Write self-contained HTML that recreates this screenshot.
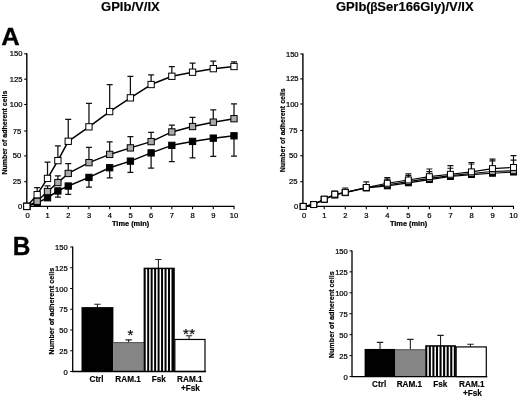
<!DOCTYPE html>
<html><head><meta charset="utf-8"><title>Figure</title>
<style>html,body{margin:0;padding:0;background:#fff;}body{width:520px;height:398px;overflow:hidden;}svg{display:block;will-change:transform;opacity:0.999;}svg{font-family:'Liberation Sans',sans-serif;}</style>
</head><body>
<svg width="520" height="398" viewBox="0 0 520 398" fill="#000">
<rect width="520" height="398" fill="#fff"/>
<text x="101" y="11.2" font-size="13.05" font-weight="bold" stroke="#000" stroke-width="0.15">GPIb/V/IX</text>
<text x="336" y="11.1" font-size="13" font-weight="bold" stroke="#000" stroke-width="0.15">GPIb(<tspan dx="-0.4" font-size="12">&#946;</tspan><tspan dx="-0.3">Ser</tspan><tspan dx="0.2">166Gly)/V/IX</tspan></text>
<text transform="translate(1.3 45.1) scale(1.04 1)" font-size="24.6" font-weight="bold" stroke="#000" stroke-width="0.3">A</text>
<text transform="translate(12.8 254.6) scale(0.95 1)" font-size="25.7" font-weight="bold" stroke="#000" stroke-width="0.3">B</text>
<path d="M26.8 53.3V206.4H234.5" fill="none" stroke="#000" stroke-width="1.4"/>
<line x1="24.2" y1="206.40" x2="26.8" y2="206.40" stroke="#000" stroke-width="1.1"/>
<text x="22.2" y="208.90" font-size="7.6" text-anchor="end" stroke="#000" stroke-width="0.22">0</text>
<line x1="24.2" y1="181.70" x2="26.8" y2="181.70" stroke="#000" stroke-width="1.1"/>
<text x="21.3" y="184.20" font-size="7.6" text-anchor="end" stroke="#000" stroke-width="0.22">25</text>
<line x1="24.2" y1="155.90" x2="26.8" y2="155.90" stroke="#000" stroke-width="1.1"/>
<text x="21.3" y="158.40" font-size="7.6" text-anchor="end" stroke="#000" stroke-width="0.22">50</text>
<line x1="24.2" y1="131.00" x2="26.8" y2="131.00" stroke="#000" stroke-width="1.1"/>
<text x="21.3" y="133.50" font-size="7.6" text-anchor="end" stroke="#000" stroke-width="0.22">75</text>
<line x1="24.2" y1="104.50" x2="26.8" y2="104.50" stroke="#000" stroke-width="1.1"/>
<text x="22.5" y="107.00" font-size="7.6" text-anchor="end" stroke="#000" stroke-width="0.22">100</text>
<line x1="24.2" y1="79.20" x2="26.8" y2="79.20" stroke="#000" stroke-width="1.1"/>
<text x="22.5" y="81.70" font-size="7.6" text-anchor="end" stroke="#000" stroke-width="0.22">125</text>
<line x1="24.2" y1="53.80" x2="26.8" y2="53.80" stroke="#000" stroke-width="1.1"/>
<text x="22.5" y="56.30" font-size="7.6" text-anchor="end" stroke="#000" stroke-width="0.22">150</text>
<text x="27.60" y="218.30" font-size="7.6" text-anchor="middle" stroke="#000" stroke-width="0.22">0</text>
<line x1="47.52" y1="206.4" x2="47.52" y2="209.20000000000002" stroke="#000" stroke-width="1.1"/>
<text x="47.62" y="218.30" font-size="7.6" text-anchor="middle" stroke="#000" stroke-width="0.22">1</text>
<line x1="68.24" y1="206.4" x2="68.24" y2="209.20000000000002" stroke="#000" stroke-width="1.1"/>
<text x="68.34" y="218.30" font-size="7.6" text-anchor="middle" stroke="#000" stroke-width="0.22">2</text>
<line x1="88.96" y1="206.4" x2="88.96" y2="209.20000000000002" stroke="#000" stroke-width="1.1"/>
<text x="89.06" y="218.30" font-size="7.6" text-anchor="middle" stroke="#000" stroke-width="0.22">3</text>
<line x1="109.68" y1="206.4" x2="109.68" y2="209.20000000000002" stroke="#000" stroke-width="1.1"/>
<text x="109.78" y="218.30" font-size="7.6" text-anchor="middle" stroke="#000" stroke-width="0.22">4</text>
<line x1="130.40" y1="206.4" x2="130.40" y2="209.20000000000002" stroke="#000" stroke-width="1.1"/>
<text x="130.50" y="218.30" font-size="7.6" text-anchor="middle" stroke="#000" stroke-width="0.22">5</text>
<line x1="151.12" y1="206.4" x2="151.12" y2="209.20000000000002" stroke="#000" stroke-width="1.1"/>
<text x="151.22" y="218.30" font-size="7.6" text-anchor="middle" stroke="#000" stroke-width="0.22">6</text>
<line x1="171.84" y1="206.4" x2="171.84" y2="209.20000000000002" stroke="#000" stroke-width="1.1"/>
<text x="171.94" y="218.30" font-size="7.6" text-anchor="middle" stroke="#000" stroke-width="0.22">7</text>
<line x1="192.56" y1="206.4" x2="192.56" y2="209.20000000000002" stroke="#000" stroke-width="1.1"/>
<text x="192.66" y="218.30" font-size="7.6" text-anchor="middle" stroke="#000" stroke-width="0.22">8</text>
<line x1="213.28" y1="206.4" x2="213.28" y2="209.20000000000002" stroke="#000" stroke-width="1.1"/>
<text x="213.38" y="218.30" font-size="7.6" text-anchor="middle" stroke="#000" stroke-width="0.22">9</text>
<line x1="234.00" y1="206.4" x2="234.00" y2="209.20000000000002" stroke="#000" stroke-width="1.1"/>
<text x="234.10" y="218.30" font-size="7.6" text-anchor="middle" stroke="#000" stroke-width="0.22">10</text>
<text x="130.60" y="226.29999999999998" font-size="7.4" font-weight="bold" text-anchor="middle" stroke="#000" stroke-width="0.22">Time (min)</text>
<text transform="translate(7.0 132.6) rotate(-90)" font-size="7" font-weight="bold" text-anchor="middle" stroke="#000" stroke-width="0.2">Number of adherent cells</text>
<path d="M57.88 190.94V197.24M54.88 197.24h6" fill="none" stroke="#111" stroke-width="1.25"/>
<path d="M68.24 186.05V194.40M65.24 194.40h6" fill="none" stroke="#111" stroke-width="1.25"/>
<path d="M88.96 177.41V187.07M85.96 187.07h6" fill="none" stroke="#111" stroke-width="1.25"/>
<path d="M109.68 167.74V177.91M106.68 177.91h6" fill="none" stroke="#111" stroke-width="1.25"/>
<path d="M130.40 161.13V172.32M127.40 172.32h6" fill="none" stroke="#111" stroke-width="1.25"/>
<path d="M151.12 152.89V168.15M148.12 168.15h6" fill="none" stroke="#111" stroke-width="1.25"/>
<path d="M171.84 145.36V161.64M168.84 161.64h6" fill="none" stroke="#111" stroke-width="1.25"/>
<path d="M192.56 141.39V157.87M189.56 157.87h6" fill="none" stroke="#111" stroke-width="1.25"/>
<path d="M213.28 138.14V156.45M210.28 156.45h6" fill="none" stroke="#111" stroke-width="1.25"/>
<path d="M234.00 135.80V156.14M231.00 156.14h6" fill="none" stroke="#111" stroke-width="1.25"/>
<path d="M26.80 206.40L37.16 202.84L47.52 197.75L57.88 190.94L68.24 186.05L88.96 177.41L109.68 167.74L130.40 161.13L151.12 152.89L171.84 145.36L192.56 141.39L213.28 138.14L234.00 135.80" fill="none" stroke="#000" stroke-width="1.5" stroke-linejoin="round"/>
<rect x="23.65" y="203.25" width="6.3" height="6.3" fill="#000" stroke="#000" stroke-width="1"/>
<rect x="34.01" y="199.69" width="6.3" height="6.3" fill="#000" stroke="#000" stroke-width="1"/>
<rect x="44.37" y="194.60" width="6.3" height="6.3" fill="#000" stroke="#000" stroke-width="1"/>
<rect x="54.73" y="187.79" width="6.3" height="6.3" fill="#000" stroke="#000" stroke-width="1"/>
<rect x="65.09" y="182.90" width="6.3" height="6.3" fill="#000" stroke="#000" stroke-width="1"/>
<rect x="85.81" y="174.26" width="6.3" height="6.3" fill="#000" stroke="#000" stroke-width="1"/>
<rect x="106.53" y="164.59" width="6.3" height="6.3" fill="#000" stroke="#000" stroke-width="1"/>
<rect x="127.25" y="157.98" width="6.3" height="6.3" fill="#000" stroke="#000" stroke-width="1"/>
<rect x="147.97" y="149.74" width="6.3" height="6.3" fill="#000" stroke="#000" stroke-width="1"/>
<rect x="168.69" y="142.21" width="6.3" height="6.3" fill="#000" stroke="#000" stroke-width="1"/>
<rect x="189.41" y="138.24" width="6.3" height="6.3" fill="#000" stroke="#000" stroke-width="1"/>
<rect x="210.13" y="134.99" width="6.3" height="6.3" fill="#000" stroke="#000" stroke-width="1"/>
<rect x="230.85" y="132.65" width="6.3" height="6.3" fill="#000" stroke="#000" stroke-width="1"/>
<path d="M47.52 191.55V185.95M44.52 185.95h6" fill="none" stroke="#111" stroke-width="1.25"/>
<path d="M57.88 182.59V175.98M54.88 175.98h6" fill="none" stroke="#111" stroke-width="1.25"/>
<path d="M68.24 173.44V163.57M65.24 163.57h6" fill="none" stroke="#111" stroke-width="1.25"/>
<path d="M88.96 162.65V147.39M85.96 147.39h6" fill="none" stroke="#111" stroke-width="1.25"/>
<path d="M109.68 154.41V141.90M106.68 141.90h6" fill="none" stroke="#111" stroke-width="1.25"/>
<path d="M130.40 147.90V136.71M127.40 136.71h6" fill="none" stroke="#111" stroke-width="1.25"/>
<path d="M151.12 141.60V132.44M148.12 132.44h6" fill="none" stroke="#111" stroke-width="1.25"/>
<path d="M171.84 131.93V125.22M168.84 125.22h6" fill="none" stroke="#111" stroke-width="1.25"/>
<path d="M192.56 126.54V117.38M189.56 117.38h6" fill="none" stroke="#111" stroke-width="1.25"/>
<path d="M213.28 122.16V109.96M210.28 109.96h6" fill="none" stroke="#111" stroke-width="1.25"/>
<path d="M234.00 118.71V103.95M231.00 103.95h6" fill="none" stroke="#111" stroke-width="1.25"/>
<path d="M26.80 206.40L37.16 201.31L47.52 191.55L57.88 182.59L68.24 173.44L88.96 162.65L109.68 154.41L130.40 147.90L151.12 141.60L171.84 131.93L192.56 126.54L213.28 122.16L234.00 118.71" fill="none" stroke="#000" stroke-width="1.5" stroke-linejoin="round"/>
<rect x="23.65" y="203.25" width="6.3" height="6.3" fill="#aaa" stroke="#000" stroke-width="1"/>
<rect x="34.01" y="198.16" width="6.3" height="6.3" fill="#aaa" stroke="#000" stroke-width="1"/>
<rect x="44.37" y="188.40" width="6.3" height="6.3" fill="#aaa" stroke="#000" stroke-width="1"/>
<rect x="54.73" y="179.44" width="6.3" height="6.3" fill="#aaa" stroke="#000" stroke-width="1"/>
<rect x="65.09" y="170.29" width="6.3" height="6.3" fill="#aaa" stroke="#000" stroke-width="1"/>
<rect x="85.81" y="159.50" width="6.3" height="6.3" fill="#aaa" stroke="#000" stroke-width="1"/>
<rect x="106.53" y="151.26" width="6.3" height="6.3" fill="#aaa" stroke="#000" stroke-width="1"/>
<rect x="127.25" y="144.75" width="6.3" height="6.3" fill="#aaa" stroke="#000" stroke-width="1"/>
<rect x="147.97" y="138.45" width="6.3" height="6.3" fill="#aaa" stroke="#000" stroke-width="1"/>
<rect x="168.69" y="128.78" width="6.3" height="6.3" fill="#aaa" stroke="#000" stroke-width="1"/>
<rect x="189.41" y="123.39" width="6.3" height="6.3" fill="#aaa" stroke="#000" stroke-width="1"/>
<rect x="210.13" y="119.01" width="6.3" height="6.3" fill="#aaa" stroke="#000" stroke-width="1"/>
<rect x="230.85" y="115.56" width="6.3" height="6.3" fill="#aaa" stroke="#000" stroke-width="1"/>
<path d="M37.16 194.70V187.58M34.16 187.58h6" fill="none" stroke="#111" stroke-width="1.25"/>
<path d="M47.52 178.42V162.15M44.52 162.15h6" fill="none" stroke="#111" stroke-width="1.25"/>
<path d="M57.88 160.62V145.87M54.88 145.87h6" fill="none" stroke="#111" stroke-width="1.25"/>
<path d="M68.24 141.29V119.42M65.24 119.42h6" fill="none" stroke="#111" stroke-width="1.25"/>
<path d="M88.96 126.84V103.45M85.96 103.45h6" fill="none" stroke="#111" stroke-width="1.25"/>
<path d="M109.68 111.58V84.63M106.68 84.63h6" fill="none" stroke="#111" stroke-width="1.25"/>
<path d="M130.40 97.85V76.49M127.40 76.49h6" fill="none" stroke="#111" stroke-width="1.25"/>
<path d="M151.12 84.52V74.86M148.12 74.86h6" fill="none" stroke="#111" stroke-width="1.25"/>
<path d="M171.84 76.28V66.62M168.84 66.62h6" fill="none" stroke="#111" stroke-width="1.25"/>
<path d="M192.56 72.21V63.06M189.56 63.06h6" fill="none" stroke="#111" stroke-width="1.25"/>
<path d="M213.28 68.65V61.02M210.28 61.02h6" fill="none" stroke="#111" stroke-width="1.25"/>
<path d="M234.00 66.52V61.94M231.00 61.94h6" fill="none" stroke="#111" stroke-width="1.25"/>
<path d="M26.80 206.40L37.16 194.70L47.52 178.42L57.88 160.62L68.24 141.29L88.96 126.84L109.68 111.58L130.40 97.85L151.12 84.52L171.84 76.28L192.56 72.21L213.28 68.65L234.00 66.52" fill="none" stroke="#000" stroke-width="1.5" stroke-linejoin="round"/>
<rect x="23.65" y="203.25" width="6.3" height="6.3" fill="#fff" stroke="#000" stroke-width="1"/>
<rect x="34.01" y="191.55" width="6.3" height="6.3" fill="#fff" stroke="#000" stroke-width="1"/>
<rect x="44.37" y="175.27" width="6.3" height="6.3" fill="#fff" stroke="#000" stroke-width="1"/>
<rect x="54.73" y="157.47" width="6.3" height="6.3" fill="#fff" stroke="#000" stroke-width="1"/>
<rect x="65.09" y="138.14" width="6.3" height="6.3" fill="#fff" stroke="#000" stroke-width="1"/>
<rect x="85.81" y="123.69" width="6.3" height="6.3" fill="#fff" stroke="#000" stroke-width="1"/>
<rect x="106.53" y="108.43" width="6.3" height="6.3" fill="#fff" stroke="#000" stroke-width="1"/>
<rect x="127.25" y="94.70" width="6.3" height="6.3" fill="#fff" stroke="#000" stroke-width="1"/>
<rect x="147.97" y="81.37" width="6.3" height="6.3" fill="#fff" stroke="#000" stroke-width="1"/>
<rect x="168.69" y="73.13" width="6.3" height="6.3" fill="#fff" stroke="#000" stroke-width="1"/>
<rect x="189.41" y="69.06" width="6.3" height="6.3" fill="#fff" stroke="#000" stroke-width="1"/>
<rect x="210.13" y="65.50" width="6.3" height="6.3" fill="#fff" stroke="#000" stroke-width="1"/>
<rect x="230.85" y="63.37" width="6.3" height="6.3" fill="#fff" stroke="#000" stroke-width="1"/>
<path d="M302.9 53.5V206.4H514.0" fill="none" stroke="#000" stroke-width="1.4"/>
<line x1="300.29999999999995" y1="206.40" x2="302.9" y2="206.40" stroke="#000" stroke-width="1.1"/>
<text x="298.3" y="208.90" font-size="7.6" text-anchor="end" stroke="#000" stroke-width="0.22">0</text>
<line x1="300.29999999999995" y1="181.70" x2="302.9" y2="181.70" stroke="#000" stroke-width="1.1"/>
<text x="297.4" y="184.20" font-size="7.6" text-anchor="end" stroke="#000" stroke-width="0.22">25</text>
<line x1="300.29999999999995" y1="155.70" x2="302.9" y2="155.70" stroke="#000" stroke-width="1.1"/>
<text x="297.4" y="158.20" font-size="7.6" text-anchor="end" stroke="#000" stroke-width="0.22">50</text>
<line x1="300.29999999999995" y1="130.50" x2="302.9" y2="130.50" stroke="#000" stroke-width="1.1"/>
<text x="297.4" y="133.00" font-size="7.6" text-anchor="end" stroke="#000" stroke-width="0.22">75</text>
<line x1="300.29999999999995" y1="104.00" x2="302.9" y2="104.00" stroke="#000" stroke-width="1.1"/>
<text x="298.6" y="106.50" font-size="7.6" text-anchor="end" stroke="#000" stroke-width="0.22">100</text>
<line x1="300.29999999999995" y1="78.90" x2="302.9" y2="78.90" stroke="#000" stroke-width="1.1"/>
<text x="298.6" y="81.40" font-size="7.6" text-anchor="end" stroke="#000" stroke-width="0.22">125</text>
<line x1="300.29999999999995" y1="54.00" x2="302.9" y2="54.00" stroke="#000" stroke-width="1.1"/>
<text x="298.6" y="56.50" font-size="7.6" text-anchor="end" stroke="#000" stroke-width="0.22">150</text>
<text x="304.00" y="218.30" font-size="7.6" text-anchor="middle" stroke="#000" stroke-width="0.22">0</text>
<line x1="324.23" y1="206.4" x2="324.23" y2="209.20000000000002" stroke="#000" stroke-width="1.1"/>
<text x="324.33" y="218.30" font-size="7.6" text-anchor="middle" stroke="#000" stroke-width="0.22">1</text>
<line x1="345.26" y1="206.4" x2="345.26" y2="209.20000000000002" stroke="#000" stroke-width="1.1"/>
<text x="345.36" y="218.30" font-size="7.6" text-anchor="middle" stroke="#000" stroke-width="0.22">2</text>
<line x1="366.29" y1="206.4" x2="366.29" y2="209.20000000000002" stroke="#000" stroke-width="1.1"/>
<text x="366.39" y="218.30" font-size="7.6" text-anchor="middle" stroke="#000" stroke-width="0.22">3</text>
<line x1="387.32" y1="206.4" x2="387.32" y2="209.20000000000002" stroke="#000" stroke-width="1.1"/>
<text x="387.42" y="218.30" font-size="7.6" text-anchor="middle" stroke="#000" stroke-width="0.22">4</text>
<line x1="408.35" y1="206.4" x2="408.35" y2="209.20000000000002" stroke="#000" stroke-width="1.1"/>
<text x="408.45" y="218.30" font-size="7.6" text-anchor="middle" stroke="#000" stroke-width="0.22">5</text>
<line x1="429.38" y1="206.4" x2="429.38" y2="209.20000000000002" stroke="#000" stroke-width="1.1"/>
<text x="429.48" y="218.30" font-size="7.6" text-anchor="middle" stroke="#000" stroke-width="0.22">6</text>
<line x1="450.41" y1="206.4" x2="450.41" y2="209.20000000000002" stroke="#000" stroke-width="1.1"/>
<text x="450.51" y="218.30" font-size="7.6" text-anchor="middle" stroke="#000" stroke-width="0.22">7</text>
<line x1="471.44" y1="206.4" x2="471.44" y2="209.20000000000002" stroke="#000" stroke-width="1.1"/>
<text x="471.54" y="218.30" font-size="7.6" text-anchor="middle" stroke="#000" stroke-width="0.22">8</text>
<line x1="492.47" y1="206.4" x2="492.47" y2="209.20000000000002" stroke="#000" stroke-width="1.1"/>
<text x="492.57" y="218.30" font-size="7.6" text-anchor="middle" stroke="#000" stroke-width="0.22">9</text>
<line x1="513.50" y1="206.4" x2="513.50" y2="209.20000000000002" stroke="#000" stroke-width="1.1"/>
<text x="513.60" y="218.30" font-size="7.6" text-anchor="middle" stroke="#000" stroke-width="0.22">10</text>
<text x="408.55" y="226.29999999999998" font-size="7.4" font-weight="bold" text-anchor="middle" stroke="#000" stroke-width="0.22">Time (min)</text>
<text transform="translate(285 130.3) rotate(-90)" font-size="7" font-weight="bold" text-anchor="middle" stroke="#000" stroke-width="0.2">Number of adherent cells</text>
<path d="M303.20 206.40L313.71 204.57L324.23 199.39L334.75 195.02L345.26 192.68L366.29 187.91L387.32 185.88L408.35 182.83L429.38 179.58L450.41 176.53L471.44 174.60L492.47 173.28L513.50 172.06" fill="none" stroke="#000" stroke-width="1.15" stroke-linejoin="round"/>
<rect x="300.25" y="203.45" width="5.9" height="5.9" fill="#000" stroke="#000" stroke-width="1"/>
<rect x="310.76" y="201.62" width="5.9" height="5.9" fill="#000" stroke="#000" stroke-width="1"/>
<rect x="321.28" y="196.44" width="5.9" height="5.9" fill="#000" stroke="#000" stroke-width="1"/>
<rect x="331.80" y="192.07" width="5.9" height="5.9" fill="#000" stroke="#000" stroke-width="1"/>
<rect x="342.31" y="189.73" width="5.9" height="5.9" fill="#000" stroke="#000" stroke-width="1"/>
<rect x="363.34" y="184.96" width="5.9" height="5.9" fill="#000" stroke="#000" stroke-width="1"/>
<rect x="384.37" y="182.93" width="5.9" height="5.9" fill="#000" stroke="#000" stroke-width="1"/>
<rect x="405.40" y="179.88" width="5.9" height="5.9" fill="#000" stroke="#000" stroke-width="1"/>
<rect x="426.43" y="176.63" width="5.9" height="5.9" fill="#000" stroke="#000" stroke-width="1"/>
<rect x="447.46" y="173.58" width="5.9" height="5.9" fill="#000" stroke="#000" stroke-width="1"/>
<rect x="468.49" y="171.65" width="5.9" height="5.9" fill="#000" stroke="#000" stroke-width="1"/>
<rect x="489.52" y="170.33" width="5.9" height="5.9" fill="#000" stroke="#000" stroke-width="1"/>
<rect x="510.55" y="169.11" width="5.9" height="5.9" fill="#000" stroke="#000" stroke-width="1"/>
<path d="M387.32 184.76V179.17M384.32 179.17h6" fill="none" stroke="#111" stroke-width="1.15"/>
<path d="M408.35 181.61V175.62M405.35 175.62h6" fill="none" stroke="#111" stroke-width="1.15"/>
<path d="M429.38 178.36V171.55M426.38 171.55h6" fill="none" stroke="#111" stroke-width="1.15"/>
<path d="M450.41 175.62V168.20M447.41 168.20h6" fill="none" stroke="#111" stroke-width="1.15"/>
<path d="M471.44 173.48V164.03M468.44 164.03h6" fill="none" stroke="#111" stroke-width="1.15"/>
<path d="M492.47 171.45V160.88M489.47 160.88h6" fill="none" stroke="#111" stroke-width="1.15"/>
<path d="M513.50 170.84V160.07M510.50 160.07h6" fill="none" stroke="#111" stroke-width="1.15"/>
<path d="M303.20 206.40L313.71 204.57L324.23 199.29L334.75 194.72L345.26 192.48L366.29 187.71L387.32 184.76L408.35 181.61L429.38 178.36L450.41 175.62L471.44 173.48L492.47 171.45L513.50 170.84" fill="none" stroke="#000" stroke-width="1.15" stroke-linejoin="round"/>
<rect x="300.25" y="203.45" width="5.9" height="5.9" fill="#aaa" stroke="#000" stroke-width="1"/>
<rect x="310.76" y="201.62" width="5.9" height="5.9" fill="#aaa" stroke="#000" stroke-width="1"/>
<rect x="321.28" y="196.34" width="5.9" height="5.9" fill="#aaa" stroke="#000" stroke-width="1"/>
<rect x="331.80" y="191.77" width="5.9" height="5.9" fill="#aaa" stroke="#000" stroke-width="1"/>
<rect x="342.31" y="189.53" width="5.9" height="5.9" fill="#aaa" stroke="#000" stroke-width="1"/>
<rect x="363.34" y="184.76" width="5.9" height="5.9" fill="#aaa" stroke="#000" stroke-width="1"/>
<rect x="384.37" y="181.81" width="5.9" height="5.9" fill="#aaa" stroke="#000" stroke-width="1"/>
<rect x="405.40" y="178.66" width="5.9" height="5.9" fill="#aaa" stroke="#000" stroke-width="1"/>
<rect x="426.43" y="175.41" width="5.9" height="5.9" fill="#aaa" stroke="#000" stroke-width="1"/>
<rect x="447.46" y="172.67" width="5.9" height="5.9" fill="#aaa" stroke="#000" stroke-width="1"/>
<rect x="468.49" y="170.53" width="5.9" height="5.9" fill="#aaa" stroke="#000" stroke-width="1"/>
<rect x="489.52" y="168.50" width="5.9" height="5.9" fill="#aaa" stroke="#000" stroke-width="1"/>
<rect x="510.55" y="167.89" width="5.9" height="5.9" fill="#aaa" stroke="#000" stroke-width="1"/>
<path d="M334.75 194.21V191.16M331.75 191.16h6" fill="none" stroke="#111" stroke-width="1.15"/>
<path d="M345.26 192.28V188.01M342.26 188.01h6" fill="none" stroke="#111" stroke-width="1.15"/>
<path d="M366.29 187.50V181.91M363.29 181.91h6" fill="none" stroke="#111" stroke-width="1.15"/>
<path d="M387.32 183.24V177.65M384.32 177.65h6" fill="none" stroke="#111" stroke-width="1.15"/>
<path d="M408.35 179.98V173.89M405.35 173.89h6" fill="none" stroke="#111" stroke-width="1.15"/>
<path d="M429.38 176.63V169.01M426.38 169.01h6" fill="none" stroke="#111" stroke-width="1.15"/>
<path d="M450.41 174.29V165.66M447.41 165.66h6" fill="none" stroke="#111" stroke-width="1.15"/>
<path d="M471.44 171.86V162.51M468.44 162.51h6" fill="none" stroke="#111" stroke-width="1.15"/>
<path d="M492.47 168.60V159.05M489.47 159.05h6" fill="none" stroke="#111" stroke-width="1.15"/>
<path d="M513.50 167.49V155.60M510.50 155.60h6" fill="none" stroke="#111" stroke-width="1.15"/>
<path d="M303.20 206.40L313.71 204.57L324.23 199.19L334.75 194.21L345.26 192.28L366.29 187.50L387.32 183.24L408.35 179.98L429.38 176.63L450.41 174.29L471.44 171.86L492.47 168.60L513.50 167.49" fill="none" stroke="#000" stroke-width="1.15" stroke-linejoin="round"/>
<rect x="300.25" y="203.45" width="5.9" height="5.9" fill="#fff" stroke="#000" stroke-width="1"/>
<rect x="310.76" y="201.62" width="5.9" height="5.9" fill="#fff" stroke="#000" stroke-width="1"/>
<rect x="321.28" y="196.24" width="5.9" height="5.9" fill="#fff" stroke="#000" stroke-width="1"/>
<rect x="331.80" y="191.26" width="5.9" height="5.9" fill="#fff" stroke="#000" stroke-width="1"/>
<rect x="342.31" y="189.33" width="5.9" height="5.9" fill="#fff" stroke="#000" stroke-width="1"/>
<rect x="363.34" y="184.55" width="5.9" height="5.9" fill="#fff" stroke="#000" stroke-width="1"/>
<rect x="384.37" y="180.29" width="5.9" height="5.9" fill="#fff" stroke="#000" stroke-width="1"/>
<rect x="405.40" y="177.03" width="5.9" height="5.9" fill="#fff" stroke="#000" stroke-width="1"/>
<rect x="426.43" y="173.68" width="5.9" height="5.9" fill="#fff" stroke="#000" stroke-width="1"/>
<rect x="447.46" y="171.34" width="5.9" height="5.9" fill="#fff" stroke="#000" stroke-width="1"/>
<rect x="468.49" y="168.91" width="5.9" height="5.9" fill="#fff" stroke="#000" stroke-width="1"/>
<rect x="489.52" y="165.65" width="5.9" height="5.9" fill="#fff" stroke="#000" stroke-width="1"/>
<rect x="510.55" y="164.54" width="5.9" height="5.9" fill="#fff" stroke="#000" stroke-width="1"/>
<line x1="70.2" y1="371.50" x2="72.7" y2="371.50" stroke="#000" stroke-width="1"/>
<text x="67.7" y="374.70" font-size="7.6" text-anchor="end" stroke="#000" stroke-width="0.22">0</text>
<line x1="70.2" y1="350.75" x2="72.7" y2="350.75" stroke="#000" stroke-width="1"/>
<text x="67.7" y="353.95" font-size="7.6" text-anchor="end" stroke="#000" stroke-width="0.22">25</text>
<line x1="70.2" y1="330.00" x2="72.7" y2="330.00" stroke="#000" stroke-width="1"/>
<text x="67.7" y="333.20" font-size="7.6" text-anchor="end" stroke="#000" stroke-width="0.22">50</text>
<line x1="70.2" y1="309.25" x2="72.7" y2="309.25" stroke="#000" stroke-width="1"/>
<text x="67.7" y="312.45" font-size="7.6" text-anchor="end" stroke="#000" stroke-width="0.22">75</text>
<line x1="70.2" y1="288.50" x2="72.7" y2="288.50" stroke="#000" stroke-width="1"/>
<text x="67.7" y="291.70" font-size="7.6" text-anchor="end" stroke="#000" stroke-width="0.22">100</text>
<line x1="70.2" y1="267.75" x2="72.7" y2="267.75" stroke="#000" stroke-width="1"/>
<text x="67.7" y="270.95" font-size="7.6" text-anchor="end" stroke="#000" stroke-width="0.22">125</text>
<line x1="70.2" y1="247.00" x2="72.7" y2="247.00" stroke="#000" stroke-width="1"/>
<text x="67.7" y="250.20" font-size="7.6" text-anchor="end" stroke="#000" stroke-width="0.22">150</text>
<text transform="translate(53.5 311.2) rotate(-90)" font-size="7.25" font-weight="bold" text-anchor="middle" stroke="#000" stroke-width="0.2">Number of adherent cells</text>
<path d="M97.45 307.59V304.27M94.25 304.27h6.4" fill="none" stroke="#222" stroke-width="1.1"/>
<rect x="81.5" y="307.09" width="31.900000000000006" height="64.41" fill="#000"/>
<text x="96.55" y="381.7" font-size="8.2" font-weight="bold" text-anchor="middle" stroke="#000" stroke-width="0.15">Ctrl</text>
<path d="M128.60 342.78V339.88M125.40 339.88h6.4" fill="none" stroke="#222" stroke-width="1.1"/>
<rect x="113.4" y="342.28" width="30.400000000000006" height="29.22" fill="#858585"/>
<line x1="113.4" y1="342.58" x2="143.8" y2="342.58" stroke="#555" stroke-width="1"/>
<text x="128.10" y="381.7" font-size="8.2" font-weight="bold" text-anchor="middle" stroke="#000" stroke-width="0.15">RAM.1</text>
<path d="M158.40 268.17V259.45M155.20 259.45h6.4" fill="none" stroke="#222" stroke-width="1.1"/>
<rect x="143.6" y="267.67" width="31.200000000000017" height="103.83" fill="#000"/>
<rect x="145.70" y="269.17" width="1.5" height="101.83" fill="#fff"/>
<rect x="149.17" y="269.17" width="1.5" height="101.83" fill="#fff"/>
<rect x="152.64" y="269.17" width="1.5" height="101.83" fill="#fff"/>
<rect x="156.11" y="269.17" width="1.5" height="101.83" fill="#fff"/>
<rect x="159.58" y="269.17" width="1.5" height="101.83" fill="#fff"/>
<rect x="163.05" y="269.17" width="1.5" height="101.83" fill="#fff"/>
<rect x="166.52" y="269.17" width="1.5" height="101.83" fill="#fff"/>
<rect x="169.99" y="269.17" width="1.5" height="101.83" fill="#fff"/>
<text x="158.80" y="381.7" font-size="8.2" font-weight="bold" text-anchor="middle" stroke="#000" stroke-width="0.15">Fsk</text>
<path d="M189.05 339.46V335.81M185.85 335.81h6.4" fill="none" stroke="#222" stroke-width="1.1"/>
<rect x="174.85" y="339.46" width="30.150000000000006" height="32.04" fill="#fff" stroke="#000" stroke-width="1.2"/>
<text x="189.85" y="381.7" font-size="8.2" font-weight="bold" text-anchor="middle" stroke="#000" stroke-width="0.15">RAM.1</text>
<text x="190.35" y="391.0" font-size="8.2" font-weight="bold" text-anchor="middle" stroke="#000" stroke-width="0.15">+Fsk</text>
<path d="M72.7 246.5V371.5H206.0" fill="none" stroke="#000" stroke-width="1.3"/>
<text x="130.6" y="340.0" font-size="15" text-anchor="middle" letter-spacing="0.5" stroke="#000" stroke-width="0.2">*</text>
<text x="189.3" y="338.9" font-size="15" text-anchor="middle" letter-spacing="0.5" stroke="#000" stroke-width="0.2">**</text>
<line x1="349.5" y1="376.60" x2="352.0" y2="376.60" stroke="#000" stroke-width="1"/>
<text x="347.8" y="379.80" font-size="7.6" text-anchor="end" stroke="#000" stroke-width="0.22">0</text>
<line x1="349.5" y1="355.65" x2="352.0" y2="355.65" stroke="#000" stroke-width="1"/>
<text x="347.8" y="358.85" font-size="7.6" text-anchor="end" stroke="#000" stroke-width="0.22">25</text>
<line x1="349.5" y1="334.70" x2="352.0" y2="334.70" stroke="#000" stroke-width="1"/>
<text x="347.8" y="337.90" font-size="7.6" text-anchor="end" stroke="#000" stroke-width="0.22">50</text>
<line x1="349.5" y1="313.75" x2="352.0" y2="313.75" stroke="#000" stroke-width="1"/>
<text x="347.8" y="316.95" font-size="7.6" text-anchor="end" stroke="#000" stroke-width="0.22">75</text>
<line x1="349.5" y1="292.80" x2="352.0" y2="292.80" stroke="#000" stroke-width="1"/>
<text x="347.8" y="296.00" font-size="7.6" text-anchor="end" stroke="#000" stroke-width="0.22">100</text>
<line x1="349.5" y1="271.85" x2="352.0" y2="271.85" stroke="#000" stroke-width="1"/>
<text x="347.8" y="275.05" font-size="7.6" text-anchor="end" stroke="#000" stroke-width="0.22">125</text>
<line x1="349.5" y1="250.90" x2="352.0" y2="250.90" stroke="#000" stroke-width="1"/>
<text x="347.8" y="254.10" font-size="7.6" text-anchor="end" stroke="#000" stroke-width="0.22">150</text>
<text transform="translate(334.0 314.8) rotate(-90)" font-size="7.25" font-weight="bold" text-anchor="middle" stroke="#000" stroke-width="0.2">Number of adherent cells</text>
<path d="M380.05 349.45V342.33M376.85 342.33h6.4" fill="none" stroke="#222" stroke-width="1.1"/>
<rect x="364.6" y="348.95" width="30.899999999999977" height="27.65" fill="#000"/>
<text x="379.15" y="386.8" font-size="8.2" font-weight="bold" text-anchor="middle" stroke="#000" stroke-width="0.15">Ctrl</text>
<path d="M410.35 349.95V339.39M407.15 339.39h6.4" fill="none" stroke="#222" stroke-width="1.1"/>
<rect x="395.5" y="349.45" width="29.69999999999999" height="27.15" fill="#858585"/>
<line x1="395.5" y1="349.75" x2="425.2" y2="349.75" stroke="#555" stroke-width="1"/>
<text x="409.45" y="386.8" font-size="8.2" font-weight="bold" text-anchor="middle" stroke="#000" stroke-width="0.15">RAM.1</text>
<path d="M440.55 345.68V335.37M437.35 335.37h6.4" fill="none" stroke="#222" stroke-width="1.1"/>
<rect x="425.2" y="345.18" width="30.69999999999999" height="31.42" fill="#000"/>
<rect x="427.30" y="346.68" width="1.5" height="29.42" fill="#fff"/>
<rect x="430.87" y="346.68" width="1.5" height="29.42" fill="#fff"/>
<rect x="434.44" y="346.68" width="1.5" height="29.42" fill="#fff"/>
<rect x="438.01" y="346.68" width="1.5" height="29.42" fill="#fff"/>
<rect x="441.59" y="346.68" width="1.5" height="29.42" fill="#fff"/>
<rect x="445.16" y="346.68" width="1.5" height="29.42" fill="#fff"/>
<rect x="448.73" y="346.68" width="1.5" height="29.42" fill="#fff"/>
<rect x="452.30" y="346.68" width="1.5" height="29.42" fill="#fff"/>
<text x="440.35" y="386.8" font-size="8.2" font-weight="bold" text-anchor="middle" stroke="#000" stroke-width="0.15">Fsk</text>
<path d="M470.45 346.93V344.25M467.25 344.25h6.4" fill="none" stroke="#222" stroke-width="1.1"/>
<rect x="456.15" y="346.93" width="30.150000000000034" height="29.67" fill="#fff" stroke="#000" stroke-width="1.2"/>
<text x="471.85" y="386.8" font-size="8.2" font-weight="bold" text-anchor="middle" stroke="#000" stroke-width="0.15">RAM.1</text>
<text x="472.35" y="396.1" font-size="8.2" font-weight="bold" text-anchor="middle" stroke="#000" stroke-width="0.15">+Fsk</text>
<path d="M352.0 250.4V376.6H487.3" fill="none" stroke="#000" stroke-width="1.3"/>
</svg>
</body></html>
